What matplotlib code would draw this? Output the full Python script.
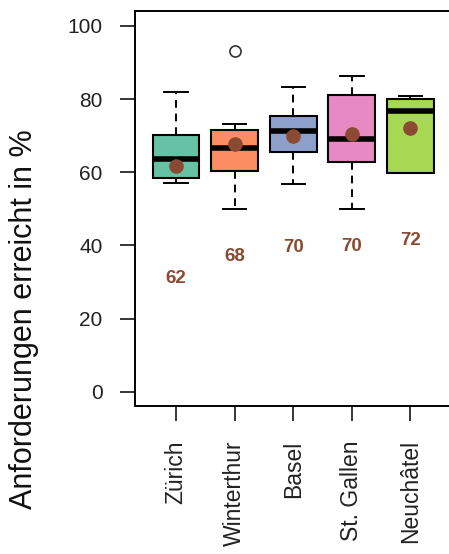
import matplotlib
matplotlib.use("Agg")
from matplotlib import pyplot as plt

plt.rcParams['font.family'] = ['Liberation Sans', 'DejaVu Sans']

# Werte
orte = ["Zürich", "Winterthur", "Basel", "St. Gallen", "Neuchâtel"]
whis_lo = [57.0, 50.0, 56.9, 50.0, 59.7]
q1 = [58.3, 60.3, 65.4, 62.8, 59.7]
median = [63.6, 66.5, 71.2, 69.2, 76.8]
q3 = [70.1, 71.6, 75.3, 81.0, 79.9]
whis_hi = [82.0, 73.2, 83.3, 86.4, 80.9]
ausreisser = [[], [93.2], [], [], []]
mittel = [61.6, 67.6, 70.0, 70.4, 72.0]
mittel_txt = ["62", "68", "70", "70", "72"]
farben = ["#66C2A5", "#FC8D62", "#8DA0CB", "#E78AC3", "#A6D854"]

braun = "#8B4A32"

fig = plt.figure(figsize=(4.49, 5.54), dpi=100)
ax = fig.add_axes([0.3007, 0.2666, 0.7047, 0.7130])

stats = []
for i in range(len(orte)):
    stats.append(dict(label=orte[i], med=median[i], q1=q1[i], q3=q3[i],
                      whislo=whis_lo[i], whishi=whis_hi[i],
                      fliers=ausreisser[i], mean=mittel[i]))

pos = list(range(1, len(orte) + 1))
bp = ax.bxp(stats, positions=pos, widths=0.8, capwidths=0.4,
            patch_artist=True, showmeans=True,
            boxprops=dict(linewidth=1.5, edgecolor="black"),
            medianprops=dict(color="black", linewidth=4),
            whiskerprops=dict(color="black", linewidth=1.4, linestyle=(0, (4, 3))),
            capprops=dict(color="black", linewidth=1.4),
            flierprops=dict(marker="o", markerfacecolor="none", markeredgecolor="#333333",
                            markersize=8, markeredgewidth=1.2),
            meanprops=dict(marker="o", markerfacecolor=braun, markeredgecolor=braun,
                           markersize=9.5))

for patch, c in zip(bp["boxes"], farben):
    patch.set_facecolor(c)
for m in bp["means"]:
    m.set_zorder(5)

# Mittelwerte als Text unter den Boxen
for p, m, t in zip(pos, mittel, mittel_txt):
    ax.text(p, m - 30.6, t, ha="center", va="center", color=braun,
            fontsize=13.5, fontweight="bold")

ax.set_xlim(0.3, 5.7)
ax.set_ylim(-4, 104)
ax.set_yticks([0, 20, 40, 60, 80, 100])
ax.set_xticks(pos)
ax.set_xticklabels(orte, rotation=90, fontsize=16.5, color="#222222")
ax.tick_params(axis="y", labelsize=15, length=11, width=1.1, pad=12.5, labelcolor="#222222")
ax.tick_params(axis="x", length=11, width=1.1, pad=13.5)
for s in ax.spines.values():
    s.set_linewidth(1.4)

fig.text(24 / 449, 1 - 319 / 554, "Anforderungen erreicht in %", rotation=90,
         ha="center", va="center", fontsize=22, color="#111111")

fig.savefig("out.png", dpi=100)
